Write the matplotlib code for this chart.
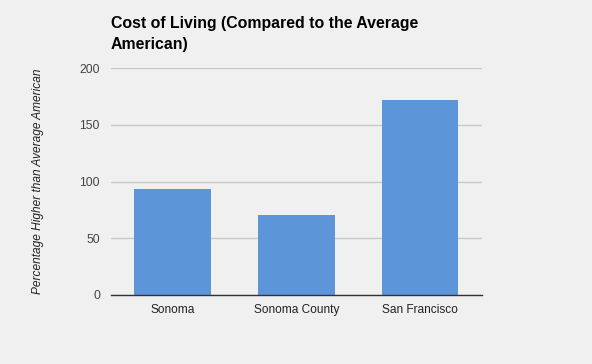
import matplotlib
matplotlib.use("Agg")
import matplotlib.pyplot as plt

categories = ["Sonoma", "Sonoma County", "San Francisco"]
values = [93.4, 70.5, 171.8]
yticks = [0, 50, 100, 150, 200]

plt.rcParams['font.family'] = ['Liberation Sans', 'DejaVu Sans']
bg = "#f0f0f0"
fig = plt.figure(figsize=(5.92, 3.64), dpi=100, facecolor=bg)
ax = fig.add_axes([0.1875, 0.1896, 0.6262, 0.6228], facecolor=bg)

x = list(range(len(categories)))
ax.bar(x, values, width=0.62, color="#5c96d9", zorder=2)
ax.set_xlim(-0.5, len(categories) - 0.5)
ax.set_ylim(0, 200)
ax.set_yticks(yticks)
ax.set_yticklabels([str(t) for t in yticks], fontsize=8.8, color="#444444")
ax.set_xticks(x)
ax.set_xticklabels(categories, fontsize=8.6, color="#222222")
ax.tick_params(axis='both', length=0, pad=8)
ax.tick_params(axis='x', pad=6.5)
ax.grid(axis='y', color="#c8c8c8", linewidth=1, zorder=0)
for s in ["top", "right", "left"]:
    ax.spines[s].set_visible(False)
ax.spines["bottom"].set_color("#333333")
ax.spines["bottom"].set_linewidth(1)
ax.spines["bottom"].set_zorder(3)

fig.text(111/592, 1 - 16/364, "Cost of Living (Compared to the Average\nAmerican)",
         fontsize=11.4, fontweight="bold", ha="left", va="top", linespacing=1.5, color="#000000")
fig.text(38/592, 1 - 181/364, "Percentage Higher than Average American", rotation=90,
         fontsize=8.55, style="italic", ha="center", va="center", color="#222222")

fig.savefig("out.png", dpi=100, facecolor=bg)
